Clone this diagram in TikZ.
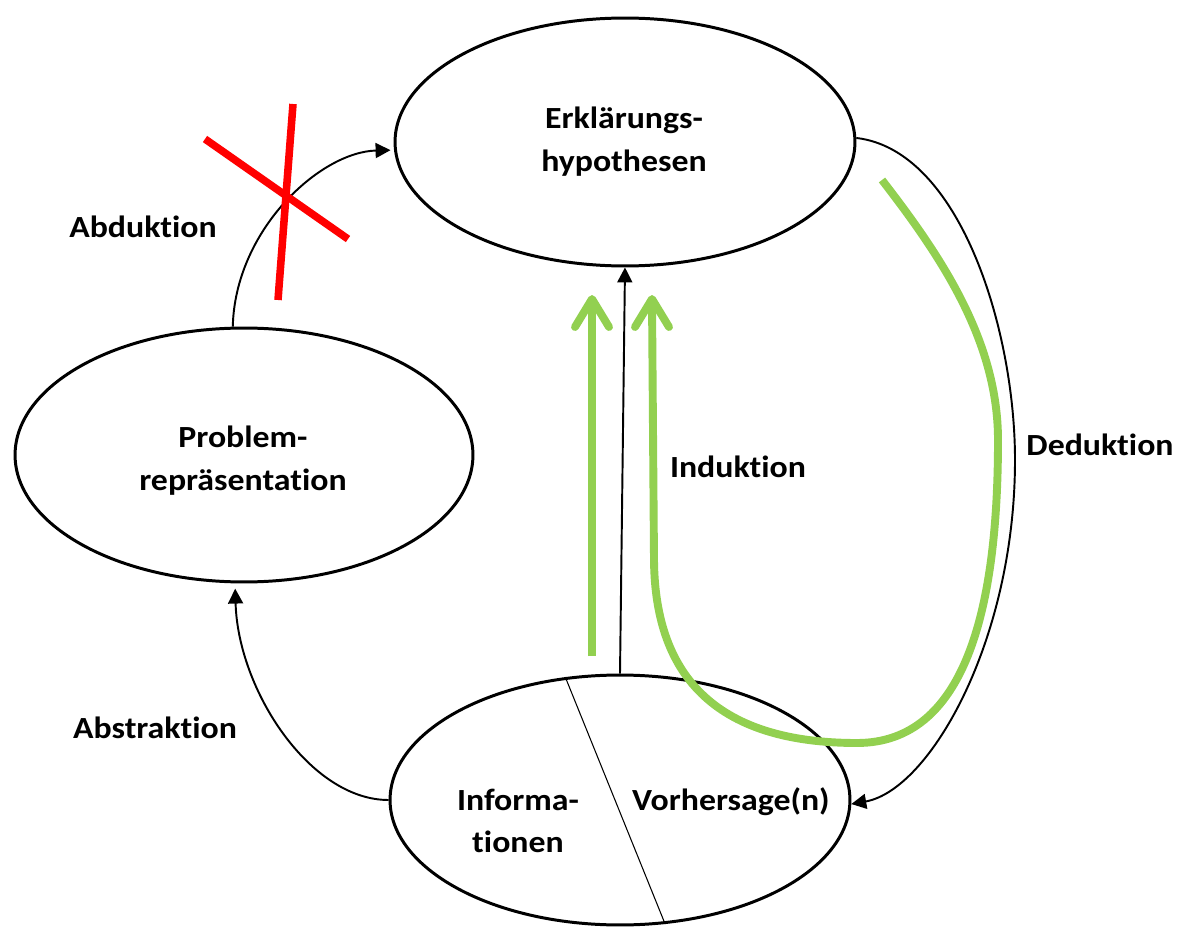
\documentclass[tikz,border=0pt]{standalone}
\usepackage{fontspec}
\setmainfont{Carlito}[Ligatures=NoCommon, FakeStretch=1.1]
\usetikzlibrary{shapes.geometric,arrows.meta,calc}
\definecolor{leafgreen}{RGB}{146,208,80}
\begin{document}
\begin{tikzpicture}[x=0.02cm,y=-0.02cm,
  bubble/.style={draw, line width=1.7pt, ellipse, inner sep=0pt},
  txt/.style={font=\bfseries\fontsize{17.5}{24.4}\selectfont, anchor=base, inner sep=0pt},
  conn/.style={line width=1.1pt, -{Triangle[length=8.5pt,width=8.5pt]}},
  greenline/.style={draw=leafgreen, line width=4.5pt},
  greentip/.style={draw=leafgreen, line width=4.5pt, line cap=round, line join=round},
  cross/.style={draw=red, line width=4.3pt}]
\useasboundingbox (0,0) rectangle (1184,929);

% the three stages
\node[bubble, minimum width=9.2cm, minimum height=4.96cm] (hyp) at (625,142) {};
\node[bubble, minimum width=9.16cm, minimum height=5.08cm] (prob) at (244,455) {};
\node[bubble, minimum width=9.2cm, minimum height=5.0cm] (info) at (620,800) {};

% split of the lower ellipse
\draw[line width=0.6pt] (info.114) -- (info.290.6);

% texts inside the ellipses
\node[txt] (hyp1) at (624,129) {Erklärungs-};
\node[txt] (hyp2) at (624,172) {hypothesen};
\node[txt] (prob1) at (243,447) {Problem-};
\node[txt] (prob2) at (243,490) {repräsentation};
\node[txt] (info1) at (518,810) {Informa-};
\node[txt] (info2) at (518,852) {tionen};
\node[txt] (pred) at (731,810) {Vorhersage(n)};

% connector labels
\node[txt] (labAbd) at (143,238) {Abduktion};
\node[txt] (labAbs) at (155,738) {Abstraktion};
\node[txt] (labInd) at (738,477) {Induktion};
\node[txt] (labDed) at (1100,455) {Deduktion};

% connectors
\draw[conn, shorten >=2pt] (prob.95) .. controls (235,230) and (320,152) .. (hyp.182);
\draw[conn, shorten >=3pt] (info.west) .. controls (310,800) and (238,690) .. (prob.266);
\draw[conn] (info.north) -- (hyp.south);
\draw[conn] (hyp.1) .. controls (960,150) and (1015,330) .. (1015,460)
  .. controls (1015,640) and (930,790) .. (info.359.5);

% green marks
\draw[greenline] (592,656) -- (592,300);
\draw[greentip] (575,327) -- (592,299) -- (609,327);
\draw[greenline] (882,180) .. controls (940,255) and (998,340) .. (998,440)
  .. controls (998,610) and (965,743) .. (857,743)
  .. controls (720,743) and (655,680) .. (654,560) -- (652,300);
\draw[greentip] (635,327) -- (652,299) -- (669,327);

% crossed-out abduction
\draw[cross] (205,139) -- (348,239);
\draw[cross] (293,104) -- (278,300);
\end{tikzpicture}
\end{document}
